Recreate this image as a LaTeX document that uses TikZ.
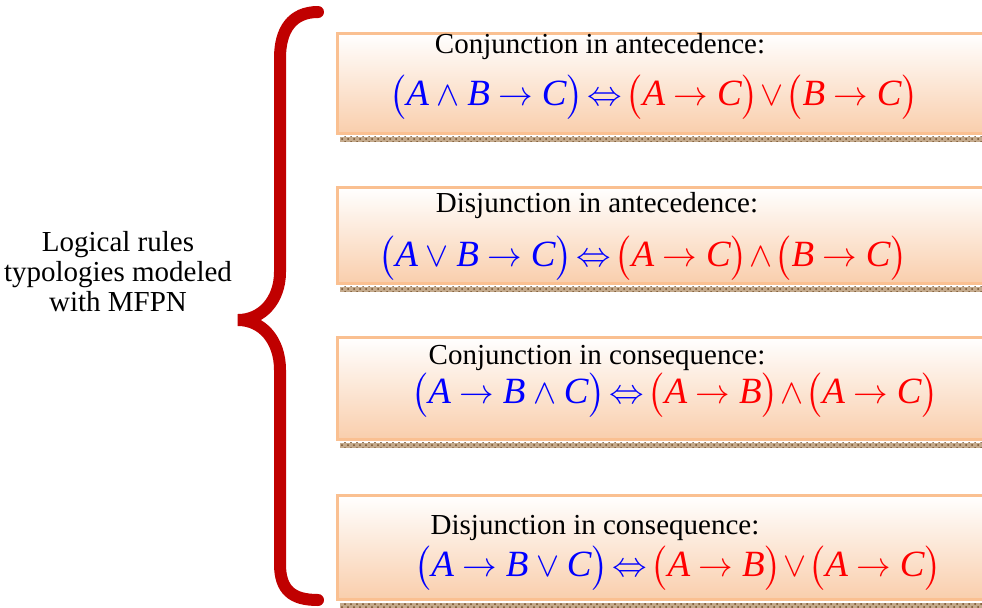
\documentclass[tikz,border=0pt]{standalone}
\usepackage{amsmath}
\usepackage{amssymb}
\usepackage{fontspec}
\setmainfont{Liberation Serif}
\usetikzlibrary{positioning, patterns}
\definecolor{bracered}{RGB}{192,0,0}
\definecolor{boxline}{RGB}{250,192,145}
\definecolor{boxpeach}{RGB}{249,206,172}
\definecolor{stripbrown}{RGB}{196,170,140}
\newcommand{\lv}[1]{\textit{#1}}
\newcommand{\jiff}{\mkern2mu{\Leftrightarrow}\mkern2mu}
\newcommand{\jor}{\mkern1mu{\vee}\mkern1mu}
\newcommand{\jand}{\mkern1mu{\wedge}\mkern1mu}
\thickmuskip=4.5mu
\medmuskip=4mu

\begin{document}
\begin{tikzpicture}[
    x=0.5pt, y=-0.5pt,
    rulebox/.style={rectangle, draw=boxline, line width=1.5pt, top color=white, bottom color=boxpeach, minimum width=340pt, anchor=north west, inner sep=0pt},
    title/.style={font=\fontsize{14.5}{15}\selectfont, inner sep=0pt},
    rule/.style={font=\fontsize{18.5}{18.5}\selectfont, inner sep=0pt}
]
    \useasboundingbox (0,0) rectangle (982,607);

    % Left label
    \node[title, align=center] (label) at (118,272) {Logical rules\\typologies modeled\\with MFPN};

    % Brace
    \draw[bracered, line width=6pt, line cap=round]
        (318,12) .. controls (292,12) and (280,30) .. (280,58)
        -- (280,272) .. controls (280,300) and (262,320) .. (238,320)
        .. controls (262,320) and (280,340) .. (280,370)
        -- (280,564) .. controls (280,590) and (292,600) .. (318,600);

    % Boxes
    \node[rulebox, minimum height=50pt] (b1) at (336,32) {};
    \node[rulebox, minimum height=48pt] (b2) at (336,186) {};
    \node[rulebox, minimum height=51pt] (b3) at (336,336) {};
    \node[rulebox, minimum height=52pt] (b4) at (336,494) {};

    % Shadow strips
    \foreach \b in {b1,b2,b3,b4} {
        \fill[stripbrown] ([xshift=2pt, yshift=-0.8pt]\b.south west) rectangle ++(700,5);
        \fill[pattern=crosshatch dots, pattern color=brown!60!black] ([xshift=2pt, yshift=-0.8pt]\b.south west) rectangle ++(700,5);
    }

    % Titles
    \node[title] (t1) at (600,47) {Conjunction in antecedence:};
    \node[title] (t2) at (597,206) {Disjunction in antecedence:};
    \node[title] (t3) at (597,358) {Conjunction in consequence:};
    \node[title] (t4) at (595,528) {Disjunction in consequence:};

    % Rules
    \node[rule] (r1) at (654,97) {$\color{blue}\bigl(\lv{A}\wedge \lv{B}\rightarrow \lv{C}\bigr)\jiff\color{red}\bigl(\lv{A}\rightarrow \lv{C}\bigr)\jor\bigl(\lv{B}\rightarrow \lv{C}\bigr)$};
    \node[rule] (r2) at (643,258) {$\color{blue}\bigl(\lv{A}\vee \lv{B}\rightarrow \lv{C}\bigr)\jiff\color{red}\bigl(\lv{A}\rightarrow \lv{C}\bigr)\jand\bigl(\lv{B}\rightarrow \lv{C}\bigr)$};
    \node[rule] (r3) at (675,395) {$\color{blue}\bigl(\lv{A}\rightarrow \lv{B}\wedge \lv{C}\bigr)\jiff\color{red}\bigl(\lv{A}\rightarrow \lv{B}\bigr)\jand\bigl(\lv{A}\rightarrow \lv{C}\bigr)$};
    \node[rule] (r4) at (678,568) {$\color{blue}\bigl(\lv{A}\rightarrow \lv{B}\vee \lv{C}\bigr)\jiff\color{red}\bigl(\lv{A}\rightarrow \lv{B}\bigr)\jor\bigl(\lv{A}\rightarrow \lv{C}\bigr)$};
\end{tikzpicture}
\end{document}
